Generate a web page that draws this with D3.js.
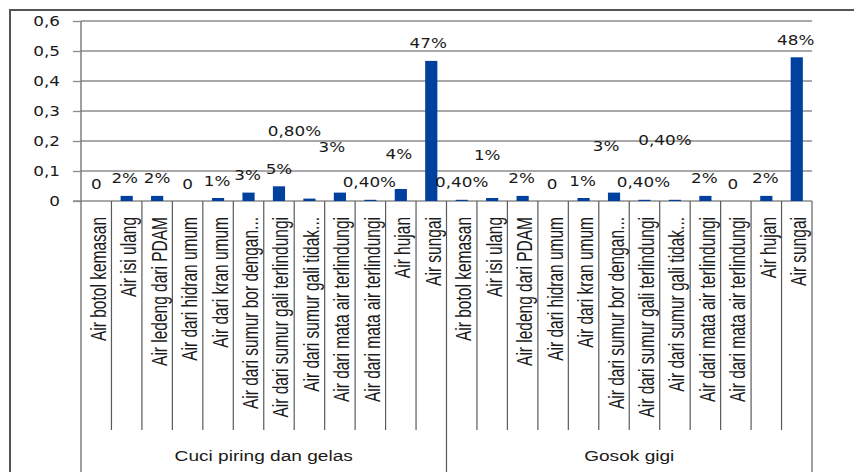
<!DOCTYPE html>
<html>
<head>
<meta charset="utf-8">
<script src="https://cdn.jsdelivr.net/npm/d3@7"></script>
<style>
  html, body { margin: 0; padding: 0; background: #fff; }
  svg { display: block; }
</style>
</head>
<body>
<svg id="chart" width="854" height="472"></svg>
<script>
// ---- data ----
const groups = ["Cuci piring dan gelas", "Gosok gigi"];
const categories = [
  "Air botol kemasan", "Air isi ulang", "Air ledeng dari PDAM", "Air dari hidran umum",
  "Air dari kran umum", "Air dari sumur bor dengan...", "Air dari sumur gali terlindungi",
  "Air dari sumur gali tidak...", "Air dari mata air terlindungi", "Air dari mata air terlindungi",
  "Air hujan", "Air sungai"
];
const cuciValues = [0, 0.017, 0.017, 0, 0.01, 0.028, 0.049, 0.008, 0.028, 0.004, 0.04, 0.467];
const cuciLabels = ["0", "2%", "2%", "0", "1%", "3%", "5%", "0,80%", "3%", "0,40%", "4%", "47%"];
const gosokValues = [0.004, 0.01, 0.017, 0, 0.01, 0.028, 0.004, 0.004, 0.017, 0, 0.017, 0.479];
const gosokLabels = ["0,40%", "1%", "2%", "0", "1%", "3%", "0,40%", "0,40%", "2%", "0", "2%", "48%"];
const yTicks = [0, 0.1, 0.2, 0.3, 0.4, 0.5, 0.6];
const yTickLabels = ["0", "0,1", "0,2", "0,3", "0,4", "0,5", "0,6"];

// label nudges (px) for data labels that were moved by hand in the original
const labelNudge = [
  [0,0],[-2,0],[0,0],[0,0],[-1,0],[-1,0],[0,0],[-15,-50],[-8,-28],[-1,0],[-2,-18],[-3,0],
  [0,0],[-5,-26],[-1,0],[-1,0],[-1,0],[-8,-29],[-1,0],[-10,-42],[-1,0],[-3,0],[-1,0],[-1,0]
];

// ---- build rows ----
const rows = [];
groups.forEach((g, gi) => {
  const vals = gi === 0 ? cuciValues : gosokValues;
  const labs = gi === 0 ? cuciLabels : gosokLabels;
  categories.forEach((c, ci) => {
    rows.push({ key: gi * categories.length + ci, group: g, cat: c, value: vals[ci], label: labs[ci] });
  });
});

// ---- layout ----
const plotL = 81, plotR = 812, plotT = 21, plotB = 201;
const sepBottom = 430;
const numStretch = 1.2;
const catStretch = 1.4;
const numFont = "'DejaVu Sans', Verdana, sans-serif";
const catFont = "'Liberation Sans Narrow', 'Liberation Sans', Arial, sans-serif";

const svg = d3.select("#chart");

const x = d3.scaleBand()
  .domain(rows.map(d => d.key))
  .range([plotL, plotR])
  .paddingInner(0.6)
  .paddingOuter(0.3);
const step = x.step();
const half = (step - x.bandwidth()) / 2;

const y = d3.scaleLinear().domain([0, 0.6]).range([plotB, plotT]);

// outer border (left and top)
svg.append("path")
  .attr("d", "M10,472 L10,10 L854,10")
  .attr("fill", "none")
  .attr("stroke", "#555")
  .attr("stroke-width", 2);

// gridlines
svg.append("g")
  .selectAll("line")
  .data(yTicks.filter(t => t > 0))
  .join("line")
  .attr("x1", plotL).attr("x2", plotR)
  .attr("y1", d => y(d)).attr("y2", d => y(d))
  .attr("stroke", "#8c8c8c")
  .attr("stroke-width", 1.3);

// y axis
const yAxis = d3.axisLeft(y)
  .tickValues(yTicks)
  .tickSize(8)
  .tickFormat((d, i) => yTickLabels[i]);
const gy = svg.append("g").attr("transform", `translate(${plotL},0)`).call(yAxis);
gy.select(".domain").remove();
gy.selectAll(".tick line").attr("stroke", "#8c8c8c").attr("stroke-width", 1.3);
gy.selectAll(".tick text")
  .attr("x", null).attr("dy", null)
  .attr("text-anchor", "end")
  .attr("dominant-baseline", "central")
  .attr("transform", `translate(-21,0) scale(${numStretch},1)`)
  .style("font-family", numFont)
  .style("font-size", "14px")
  .attr("fill", "#1a1a1a");

// zero baseline
svg.append("line")
  .attr("x1", plotL - 8).attr("x2", plotR)
  .attr("y1", y(0)).attr("y2", y(0))
  .attr("stroke", "#8c8c8c").attr("stroke-width", 1.3);

// category separators
svg.append("g")
  .selectAll("line")
  .data(rows.slice(1))
  .join("line")
  .attr("x1", d => x(d.key) - half).attr("x2", d => x(d.key) - half)
  .attr("y1", plotB)
  .attr("y2", d => (d.key % categories.length === 0) ? 472 : sepBottom)
  .attr("stroke", "#5a5a5a")
  .attr("stroke-width", 1.2);

// left axis line (full height) and right edge line (below plot only)
svg.append("line")
  .attr("x1", plotL).attr("x2", plotL)
  .attr("y1", plotT).attr("y2", 472)
  .attr("stroke", "#777").attr("stroke-width", 1.4);
svg.append("line")
  .attr("x1", plotR).attr("x2", plotR)
  .attr("y1", plotB).attr("y2", 472)
  .attr("stroke", "#777").attr("stroke-width", 1.4);

// bars
svg.append("g")
  .selectAll("rect")
  .data(rows)
  .join("rect")
  .attr("x", d => x(d.key))
  .attr("width", x.bandwidth())
  .attr("y", d => y(d.value))
  .attr("height", d => y(0) - y(d.value))
  .attr("fill", "#0041a0");

// data labels
svg.append("g")
  .selectAll("text")
  .data(rows)
  .join("text")
  .attr("transform", d => {
    const n = labelNudge[d.key];
    const cx = x(d.key) + x.bandwidth() / 2 + n[0];
    const cy = y(d.value) - 17 + n[1];
    return `translate(${cx},${cy}) scale(${numStretch},1)`;
  })
  .attr("text-anchor", "middle")
  .attr("dominant-baseline", "central")
  .style("font-family", numFont)
  .style("font-size", "14px")
  .attr("fill", "#1a1a1a")
  .text(d => d.label);

// category labels (rotated)
svg.append("g")
  .selectAll("text")
  .data(rows)
  .join("text")
  .attr("transform", d => `translate(${x(d.key) + x.bandwidth() / 2 + 2},217) scale(${catStretch},1) rotate(-90)`)
  .attr("text-anchor", "end")
  .attr("dominant-baseline", "central")
  .style("font-family", catFont)
  .style("font-size", "15.5px")
  .attr("fill", "#1a1a1a")
  .text(d => d.cat);

// group labels
svg.append("g")
  .selectAll("text")
  .data(groups)
  .join("text")
  .attr("transform", (g, gi) => {
    const first = gi * categories.length, last = first + categories.length - 1;
    const cx = ((x(first) - half) + (x(last) + x.bandwidth() + half)) / 2;
    return `translate(${cx},456) scale(1.29,1)`;
  })
  .attr("text-anchor", "middle")
  .attr("dominant-baseline", "central")
  .style("font-family", catFont)
  .style("font-size", "14.8px")
  .attr("fill", "#1a1a1a")
  .text(g => g);
</script>
</body>
</html>
